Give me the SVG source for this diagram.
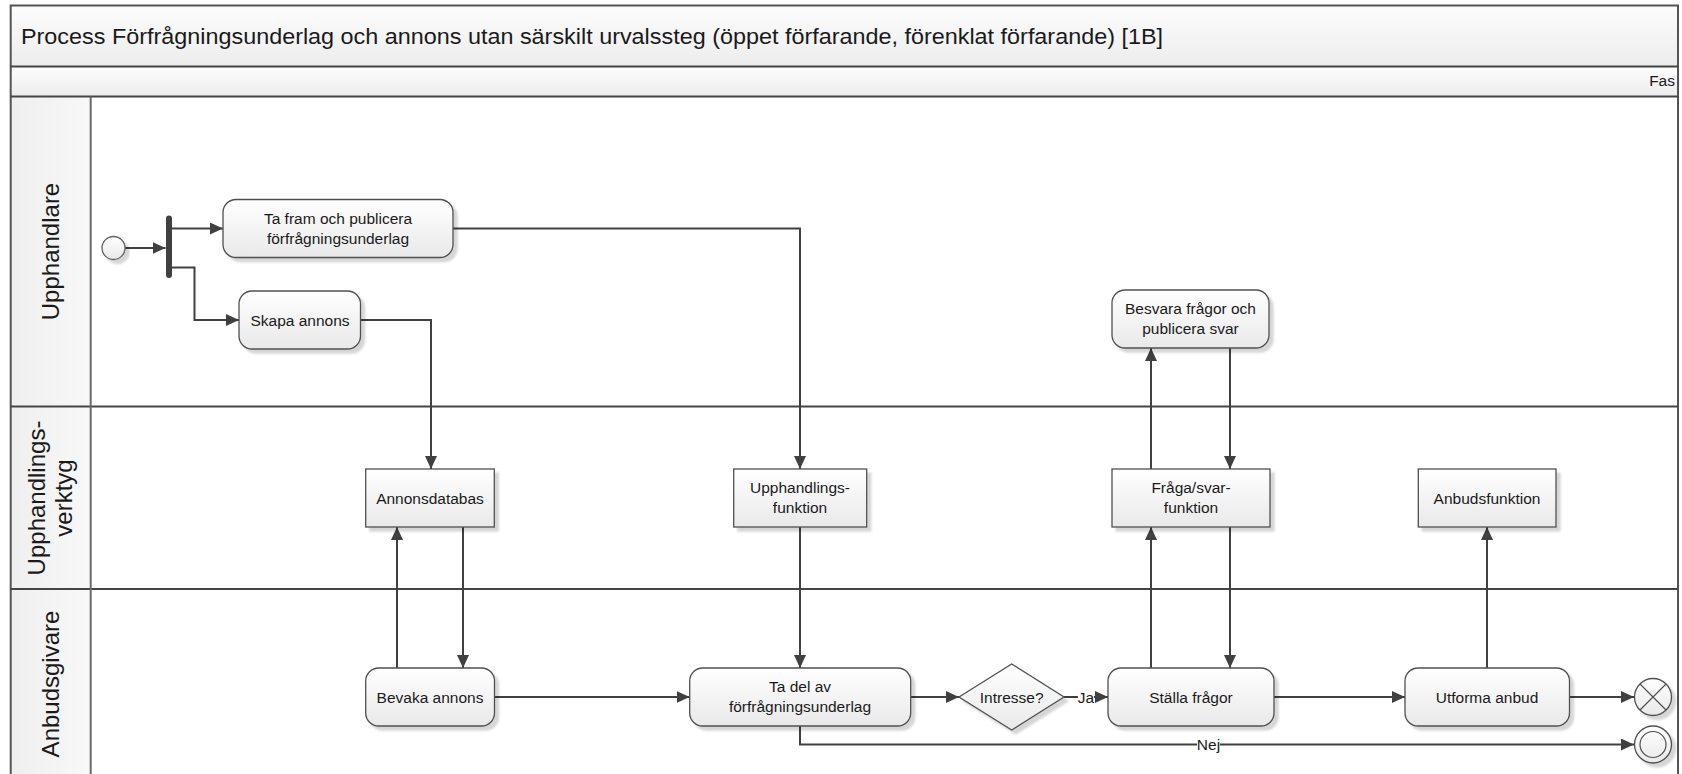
<svg xmlns="http://www.w3.org/2000/svg" width="1682" height="774" viewBox="0 0 1682 774">
  <defs>
    <linearGradient id="gNode" x1="0" y1="0" x2="0" y2="1">
      <stop offset="0" stop-color="#ffffff"/>
      <stop offset="1" stop-color="#e9e9e9"/>
    </linearGradient>
    <linearGradient id="gBar" x1="0" y1="0" x2="0" y2="1">
      <stop offset="0" stop-color="#fdfdfd"/>
      <stop offset="1" stop-color="#ececec"/>
    </linearGradient>
    <linearGradient id="gHead" x1="0" y1="0" x2="1" y2="0">
      <stop offset="0" stop-color="#efefef"/>
      <stop offset="1" stop-color="#f8f8f8"/>
    </linearGradient>
    <filter id="shadow" x="-10%" y="-10%" width="130%" height="140%">
      <feDropShadow dx="4" dy="4" stdDeviation="1.2" flood-color="#000" flood-opacity="0.16"/>
    </filter>
    <marker id="ah" viewBox="0 0 13 12" refX="13" refY="6" markerWidth="13" markerHeight="12" markerUnits="userSpaceOnUse" orient="auto">
      <path d="M0,0 L13,6 L0,12 z" fill="#404040"/>
    </marker>
  </defs>
  <style>
    .frame{fill:none;stroke:#555;stroke-width:2}
    .sep{stroke:#444;stroke-width:2;fill:none}
    .hsep{stroke:#6a6a6a;stroke-width:2;fill:none}
    .task{fill:url(#gNode);stroke:#505050;stroke-width:1.3;filter:url(#shadow)}
    .sys{fill:url(#gNode);stroke:#505050;stroke-width:1.3;filter:url(#shadow)}
    .conn{stroke:#404040;stroke-width:2;fill:none;marker-end:url(#ah)}
    .plain{stroke:#404040;stroke-width:2;fill:none}
    text{font-family:"Liberation Sans",Arial,sans-serif;fill:#1a1a1a}
    .t{font-size:15.5px;text-anchor:middle}
    .lane{font-size:24px;text-anchor:middle}
    .lbl{font-size:15.5px;text-anchor:middle}
  </style>

  <!-- pool background, title bar and phase bar -->
  <rect x="0" y="0" width="1682" height="774" fill="#ffffff"/>
  <rect x="10.7" y="5.4" width="1667.3" height="61.1" fill="url(#gBar)"/>
  <rect x="10.7" y="66.5" width="1667.3" height="30" fill="url(#gBar)"/>
  <rect x="10.7" y="96.5" width="80" height="690" fill="url(#gHead)"/>
  <text x="21" y="43.5" font-size="22.5" textLength="1142" lengthAdjust="spacingAndGlyphs">Process Förfrågningsunderlag och annons utan särskilt urvalssteg (öppet förfarande, förenklat förfarande) [1B]</text>
  <text x="1675" y="86" font-size="15.5" text-anchor="end">Fas</text>

  <!-- lane borders -->
  <path class="frame" d="M10.7,790 V5.4 H1678 V790"/>
  <path class="sep" d="M10.7,66.5 H1678 M10.7,96.5 H1678"/>
  <path class="sep" d="M10.7,406.6 H1678 M10.7,589 H1678"/>
  <path class="hsep" d="M90.7,96.5 V790"/>

  <!-- lane labels -->
  <g id="lane-upphandlare">
    <text class="lane" transform="translate(50.7,251.5) rotate(-90)" y="8">Upphandlare</text>
  </g>
  <g id="lane-verktyg">
    <text class="lane" transform="translate(50.7,498) rotate(-90)" y="-6">Upphandlings-</text>
    <text class="lane" transform="translate(50.7,498) rotate(-90)" y="21">verktyg</text>
  </g>
  <g id="lane-anbudsgivare">
    <text class="lane" transform="translate(50.7,684) rotate(-90)" y="8">Anbudsgivare</text>
  </g>

  <!-- connectors -->
  <g id="connectors">
    <path class="conn" d="M125,248 H165.5"/>
    <path class="conn" d="M172,228.5 H223"/>
    <path class="conn" d="M172,267.5 H194.5 V320 H239"/>
    <path class="conn" d="M453,228.5 H800 V469"/>
    <path class="conn" d="M360.5,320 H431 V469"/>
    <path class="conn" d="M800,527 V668"/>
    <path class="conn" d="M397,668 V527"/>
    <path class="conn" d="M463,527 V668"/>
    <path class="conn" d="M494.5,697 H689.7"/>
    <path class="conn" d="M910.7,697 H959"/>
    <path class="conn" d="M1064,697 H1108"/>
    <path class="conn" d="M1151,668 V527"/>
    <path class="conn" d="M1151,469 V348"/>
    <path class="conn" d="M1230,348 V469"/>
    <path class="conn" d="M1230,527 V668"/>
    <path class="conn" d="M1274,697 H1405"/>
    <path class="conn" d="M1487,668 V527"/>
    <path class="conn" d="M1569.5,697 H1634"/>
    <path class="conn" d="M800,726 V744.5 H1634"/>
    <rect x="1078" y="688" width="16" height="18" fill="#ffffff"/>
    <text class="lbl" x="1086" y="702.5">Ja</text>
    <rect x="1197" y="735" width="23" height="18" fill="#ffffff"/>
    <text class="lbl" x="1208.5" y="750">Nej</text>
  </g>

  <!-- start and fork -->
  <g id="start">
    <circle cx="113.5" cy="248" r="11.5" fill="url(#gNode)" stroke="#606060" stroke-width="1.3" filter="url(#shadow)"/>
  </g>
  <g id="fork">
    <rect x="166" y="215.6" width="6" height="62.4" rx="3" fill="#404040"/>
  </g>

  <!-- Upphandlare lane -->
  <g id="ta-fram">
    <rect class="task" x="223" y="199.5" width="230" height="58" rx="13"/>
    <text class="t" x="338" y="223.5">Ta fram och publicera</text>
    <text class="t" x="338" y="243.5">förfrågningsunderlag</text>
  </g>
  <g id="skapa-annons">
    <rect class="task" x="239" y="291" width="121.5" height="58" rx="13"/>
    <text class="t" x="300" y="325.5">Skapa annons</text>
  </g>
  <g id="besvara">
    <rect class="task" x="1112" y="290" width="157" height="58" rx="13"/>
    <text class="t" x="1190.5" y="314">Besvara frågor och</text>
    <text class="t" x="1190.5" y="334">publicera svar</text>
  </g>

  <!-- Upphandlingsverktyg lane -->
  <g id="annonsdatabas">
    <rect class="sys" x="365.7" y="469" width="128.6" height="58"/>
    <text class="t" x="430" y="503.5">Annonsdatabas</text>
  </g>
  <g id="upphandlingsfunktion">
    <rect class="sys" x="733.7" y="469" width="133" height="58"/>
    <text class="t" x="800" y="493">Upphandlings-</text>
    <text class="t" x="800" y="513">funktion</text>
  </g>
  <g id="fraga-svar">
    <rect class="sys" x="1112" y="469" width="158" height="58"/>
    <text class="t" x="1191" y="493">Fråga/svar-</text>
    <text class="t" x="1191" y="513">funktion</text>
  </g>
  <g id="anbudsfunktion">
    <rect class="sys" x="1418.3" y="469" width="137.7" height="58"/>
    <text class="t" x="1487" y="503.5">Anbudsfunktion</text>
  </g>

  <!-- Anbudsgivare lane -->
  <g id="bevaka-annons">
    <rect class="task" x="365.7" y="668" width="128.8" height="58" rx="13"/>
    <text class="t" x="430" y="702.5">Bevaka annons</text>
  </g>
  <g id="ta-del-av">
    <rect class="task" x="689.7" y="668" width="221" height="58" rx="13"/>
    <text class="t" x="800" y="692">Ta del av</text>
    <text class="t" x="800" y="712">förfrågningsunderlag</text>
  </g>
  <g id="intresse">
    <path class="task" d="M959,697 L1011.7,664 L1064,697 L1011.7,730 Z"/>
    <text class="t" x="1011.7" y="702.5">Intresse?</text>
  </g>
  <g id="stalla-fragor">
    <rect class="task" x="1108" y="668" width="166" height="58" rx="13"/>
    <text class="t" x="1191" y="702.5">Ställa frågor</text>
  </g>
  <g id="utforma-anbud">
    <rect class="task" x="1405" y="668" width="164.5" height="58" rx="13"/>
    <text class="t" x="1487" y="702.5">Utforma anbud</text>
  </g>
  <g id="end-terminate">
    <circle cx="1653" cy="697" r="18.5" fill="url(#gNode)" stroke="#505050" stroke-width="1.3" filter="url(#shadow)"/>
    <path d="M1640,684 L1666,710 M1666,684 L1640,710" stroke="#505050" stroke-width="1.2"/>
  </g>
  <g id="end">
    <circle cx="1653" cy="744.5" r="18.5" fill="url(#gNode)" stroke="#505050" stroke-width="1.3" filter="url(#shadow)"/>
    <circle cx="1653" cy="744.5" r="13" fill="none" stroke="#505050" stroke-width="1.2"/>
  </g>
</svg>
